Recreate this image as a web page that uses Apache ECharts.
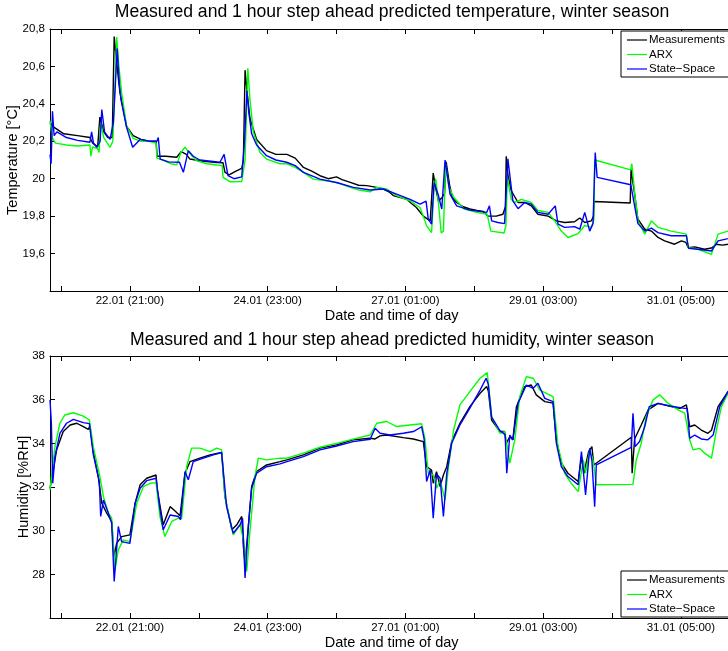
<!DOCTYPE html>
<html>
<head>
<meta charset="utf-8">
<script src="https://cdn.jsdelivr.net/npm/echarts@6/dist/echarts.min.js"></script>
<style>
  html, body { margin: 0; padding: 0; background: #fff; }
  #chart { width: 728px; height: 651px; }
</style>
</head>
<body>
<div id="chart"></div>
<script>
// x values are hours counted from the left edge of the plots (21.01 16:00)
const xTickHours = [4, 29, 54, 79, 104, 129, 154, 179, 204, 229];
const xLabelHours = [29, 79, 129, 179, 229];
const xLabels = ['22.01 (21:00)', '24.01 (23:00)', '27.01 (01:00)', '29.01 (03:00)', '31.01 (05:00)'];
const seriesNames = ['Measurements', 'ARX', 'State\u2212Space'];

// temperature [°C]
const tempMeas = [
  [0, 20.30], [1, 20.28], [5, 20.24], [10, 20.23], [14.5, 20.22], [15.5, 20.19], [17.3, 20.17], [18.1, 20.33],
  [19.5, 20.25], [21, 20.22], [22.6, 20.22], [23.3, 20.76], [24.2, 20.62], [25.4, 20.46], [27.8, 20.28],
  [30.2, 20.23], [33, 20.21], [36, 20.2], [38.5, 20.2], [38.9, 20.12], [42, 20.12], [46, 20.115], [47.6, 20.145],
  [49.5, 20.13], [50.8, 20.105], [55, 20.095], [60.5, 20.087], [62.8, 20.085], [63.5, 20.035], [65, 20.02],
  [67.5, 20.04], [69.6, 20.055], [70.2, 20.1], [70.8, 20.58], [71.6, 20.45], [72.6, 20.32], [75, 20.21],
  [78.6, 20.15], [82, 20.13], [86, 20.13], [89, 20.11], [92, 20.06], [95, 20.04], [98, 20.016], [101, 20.0],
  [104, 20.01], [106, 19.995], [109, 19.98], [112, 19.965], [115, 19.963], [118, 19.955], [121, 19.945],
  [123, 19.93], [124.6, 19.91], [127, 19.9], [129.5, 19.89], [131, 19.87], [133, 19.846], [135.5, 19.80],
  [138, 19.775], [138.7, 19.78], [139.1, 20.03], [140, 19.95], [141, 19.88], [142.3, 19.90], [143.2, 19.92],
  [143.8, 20.09], [145, 19.97], [146, 19.9], [147.6, 19.873], [150, 19.85], [152.4, 19.838], [155, 19.83],
  [157.3, 19.825], [159, 19.80], [162, 19.80], [164.4, 19.81], [165.3, 19.85], [165.6, 20.12], [166.2, 20.02],
  [167.4, 19.936], [169.9, 19.873], [172.3, 19.873], [174.7, 19.855], [177.1, 19.81], [180.8, 19.80],
  [183.8, 19.775], [186.8, 19.766], [190.4, 19.77], [192.3, 19.79], [194.1, 19.766], [196.5, 19.775],
  [197.3, 19.80], [197.5, 19.878], [210.6, 19.87], [210.9, 20.05], [212.2, 19.918], [213.4, 19.784],
  [215.9, 19.73], [218.3, 19.72], [220.7, 19.686], [223.1, 19.668], [226.7, 19.65], [229.2, 19.668],
  [230.8, 19.66], [231.6, 19.632], [234, 19.636], [237.6, 19.623], [240.1, 19.63], [241.9, 19.65],
  [244, 19.645], [246.1, 19.65], [248, 19.655]
];
const tempArx = [
  [0, 20.31], [0.8, 20.22], [2, 20.19], [6, 20.18], [10, 20.175], [14.5, 20.18], [14.8, 20.12], [15.5, 20.17],
  [17.3, 20.16], [17.8, 20.14], [18.4, 20.30], [19.5, 20.22], [21.8, 20.168], [22.8, 20.2], [23.6, 20.5],
  [24.2, 20.757], [25, 20.6], [26, 20.46], [27.8, 20.28], [30.2, 20.216], [33, 20.2], [36, 20.2], [38.5, 20.19],
  [38.8, 20.11], [41, 20.1], [44, 20.08], [46, 20.074], [47.5, 20.14], [49, 20.168], [51, 20.13], [53.2, 20.096],
  [57, 20.08], [60.5, 20.073], [62.5, 20.07], [62.8, 20.007], [65.3, 19.984], [69.6, 19.985], [70.8, 20.1],
  [71.8, 20.59], [72.6, 20.42], [73.8, 20.25], [76.2, 20.14], [78.6, 20.105], [83.5, 20.08], [86, 20.08],
  [89, 20.06], [92, 20.034], [95.6, 19.998], [101.6, 19.986], [105, 19.975], [108.9, 19.954], [112, 19.94],
  [116.2, 19.93], [118.6, 19.954], [122.2, 19.945], [125.8, 19.91], [130.7, 19.882], [134.3, 19.846],
  [135.5, 19.80], [136.7, 19.748], [138.5, 19.712], [139.4, 19.95], [140, 20.0], [141, 19.87], [142, 19.71],
  [142.8, 19.72], [143.6, 20.08], [144.8, 19.954], [146.6, 19.9], [150.3, 19.838], [155, 19.82], [158.7, 19.81],
  [160, 19.72], [164.8, 19.71], [165.5, 19.75], [166, 20.007], [167.4, 19.89], [168.7, 19.873], [171.1, 19.89],
  [174.7, 19.873], [177.1, 19.83], [180.8, 19.82], [183.2, 19.775], [185.6, 19.72], [188, 19.686],
  [191.7, 19.707], [194.1, 19.75], [196.5, 19.74], [197.4, 19.78], [197.7, 20.10], [210.8, 20.047],
  [211.2, 20.08], [212.2, 19.927], [213.4, 19.775], [215.9, 19.704], [218.3, 19.775], [220.7, 19.74],
  [225.5, 19.72], [231, 19.704], [231.6, 19.632], [235.2, 19.623], [240.1, 19.596], [242.5, 19.704],
  [246.1, 19.72], [248, 19.72]
];
const tempSs = [
  [0, 20.13], [0.4, 20.08], [0.9, 20.36], [1.5, 20.23], [2.5, 20.25], [6, 20.22], [10, 20.205], [14.5, 20.195],
  [15.1, 20.25], [15.8, 20.19], [17, 20.168], [18.2, 20.2], [18.8, 20.37], [19.8, 20.25], [21.8, 20.21],
  [23, 20.3], [24.4, 20.695], [25.2, 20.5], [25.8, 20.42], [27.8, 20.275], [30, 20.168], [32.7, 20.21],
  [36, 20.2], [38.8, 20.2], [39.3, 20.22], [40, 20.105], [43, 20.09], [47, 20.088], [48.4, 20.034],
  [50.2, 20.15], [52, 20.12], [54.4, 20.1], [61.7, 20.088], [63.2, 20.13], [64.6, 20.016], [66.8, 20.0],
  [69.6, 20.01], [70.6, 20.2], [71.5, 20.47], [72.2, 20.35], [73.2, 20.24], [75, 20.18], [78.6, 20.123],
  [82, 20.1], [85.9, 20.088], [89, 20.07], [92, 20.034], [98, 19.998], [104, 19.98], [110.1, 19.954],
  [116.2, 19.94], [121, 19.945], [125.8, 19.918], [130.7, 19.89], [134.3, 19.864], [136.5, 19.88],
  [137.3, 19.784], [138.5, 19.757], [139.4, 19.98], [141, 19.91], [142.2, 19.838], [143.4, 20.1],
  [145.2, 19.918], [147.6, 19.855], [152.4, 19.832], [158.5, 19.82], [159.5, 19.855], [160.3, 19.775],
  [162.6, 19.766], [165, 19.76], [166.2, 20.106], [168, 19.882], [169.9, 19.84], [172.3, 19.873],
  [174.7, 19.864], [177.1, 19.82], [180.8, 19.81], [183.4, 19.855], [184.4, 19.757], [186.8, 19.74],
  [190.4, 19.744], [192.3, 19.73], [194.1, 19.82], [195.9, 19.72], [197.1, 19.76], [197.9, 20.14],
  [198.6, 20.007], [210.8, 19.968], [211.3, 19.97], [212.2, 19.855], [213.4, 19.76], [215.9, 19.72],
  [218.3, 19.736], [220.7, 19.712], [225.5, 19.695], [231, 19.695], [231.8, 19.628], [235.2, 19.623],
  [240.1, 19.614], [242.5, 19.668], [246.1, 19.68], [248, 19.69]
];

// humidity [%RH]
const humMeas = [
  [0, 31.94], [1.2, 32.78], [2.4, 33.7], [4.8, 34.54], [7.3, 34.84], [9.7, 34.92], [12.1, 34.76], [13.9, 34.64],
  [14.5, 34.8], [15.7, 33.62], [17.5, 32.48], [18.8, 31.26], [20.6, 30.8], [22.4, 30.42], [23.2, 28.81],
  [24.2, 29.43], [26, 29.73], [29, 29.81], [30.9, 31.26], [32.7, 32.1], [35.1, 32.4], [38.5, 32.55],
  [38.9, 31.9], [41.1, 30.27], [43.6, 31.1], [45, 30.95], [47.2, 30.68], [49, 32.63], [50.8, 33.16],
  [54.4, 33.32], [58.1, 33.47], [62.3, 33.58], [63.5, 31.56], [66, 30.04], [67.8, 30.27], [69.6, 30.65],
  [70.2, 29.27], [70.8, 28.51], [72, 30.2], [73.2, 32.02], [75, 32.71], [78.6, 33.01], [83.5, 33.16],
  [86, 33.24], [92, 33.47], [98, 33.78], [104, 33.93], [110, 34.16], [116.2, 34.23], [118, 34.2],
  [119.8, 34.34], [122.2, 34.38], [128.2, 34.26], [131.9, 34.2], [135.5, 34.08], [136.7, 32.93],
  [138.5, 32.78], [139.1, 32.17], [140.3, 32.7], [141.6, 32.02], [142.8, 32.55], [144, 32.93], [145.8, 34.08],
  [148.8, 34.92], [152.4, 35.68], [156.1, 36.29], [158.5, 36.6], [159.1, 36.4], [160.3, 35.07], [163.3, 34.54],
  [165, 34.54], [165.6, 34.0], [166.9, 34.3], [168, 34.16], [169.3, 35.68], [172.3, 36.6], [174.7, 36.67],
  [176.5, 36.22], [179.6, 35.91], [182.6, 35.84], [183.8, 34.16], [185.6, 33.09], [188, 32.63], [191.7, 32.25],
  [192.9, 33.39], [193.8, 32.63], [195.5, 33.62], [196.7, 33.85], [197.4, 33.01], [211, 34.28], [211.3, 32.63],
  [212.2, 34.2], [214.6, 34.84], [217.1, 35.53], [220.7, 35.83], [225.5, 35.68], [228.6, 35.6], [231, 35.76],
  [232.2, 34.76], [234, 34.84], [236.4, 34.61], [238.8, 34.46], [240.1, 34.6], [242.5, 35.68], [246.1, 36.37],
  [248, 36.5]
];
const humArx = [
  [0, 31.87], [1.8, 33.85], [3.6, 34.92], [5.4, 35.3], [8.5, 35.4], [12.1, 35.25], [14.3, 35.07], [15.7, 33.85],
  [18.1, 32.48], [19.4, 31.56], [21.2, 30.8], [22.4, 30.57], [23.6, 28.21], [24.8, 29.12], [26.6, 29.58],
  [29, 29.5], [31.5, 31.26], [33.9, 32.02], [36.3, 32.17], [38.5, 32.2], [39.9, 30.65], [41.7, 29.73],
  [44.2, 30.42], [46.6, 30.57], [47.8, 30.57], [49.6, 32.93], [51.4, 33.78], [54.4, 33.78], [58.1, 33.62],
  [60.5, 33.78], [62.3, 33.7], [63.5, 31.56], [66.5, 29.81], [69, 30.27], [70.2, 29.6], [71.4, 28.13],
  [72.6, 30.0], [74.4, 32.48], [75.6, 33.32], [78.6, 33.24], [83.5, 33.32], [86, 33.32], [92, 33.55],
  [98, 33.82], [104, 34.0], [110, 34.19], [116.2, 34.38], [118.6, 34.92], [122.2, 35.0], [125.8, 34.77],
  [130.7, 34.84], [134.9, 34.9], [136.1, 34.2], [137.3, 32.63], [139.1, 32.55], [140.3, 31.94], [141.6, 32.3],
  [143.4, 31.41], [144.6, 32.9], [146.5, 34.61], [148.8, 35.76], [152.4, 36.37], [156.1, 36.98], [158.7, 37.24],
  [160.3, 35.22], [163.3, 34.46], [165, 34.54], [166, 33.85], [166.9, 33.09], [168.7, 34.16], [170.5, 36.14],
  [172.9, 37.05], [175.4, 36.98], [177.8, 36.44], [180.2, 36.29], [182.6, 36.14], [184.4, 33.85], [186.8, 32.63],
  [189.2, 32.17], [191.7, 31.79], [193.6, 33.24], [194.4, 32.63], [195.9, 33.7], [197.1, 33.24], [198.3, 32.1],
  [211.6, 32.12], [212.8, 33.24], [214.6, 34.0], [216.4, 35.22], [218.9, 35.99], [221.3, 36.22], [224.3, 35.84],
  [228, 35.53], [230.4, 35.38], [232.2, 34.16], [233.4, 33.7], [235.8, 33.77], [237.6, 33.55], [240.1, 33.32],
  [241.9, 34.61], [243.7, 35.68], [246.1, 36.29], [248, 36.45]
];
const humSs = [
  [0, 35.99], [0.5, 34.92], [1, 32.17], [1.8, 33.39], [3.6, 34.46], [6, 34.92], [8.5, 35.1], [12.1, 34.95],
  [14.3, 34.9], [15.7, 33.5], [17.9, 32.25], [18.4, 30.65], [19.4, 31.4], [21.2, 30.8], [22.4, 30.34],
  [23.3, 27.67], [24.8, 30.19], [26, 29.5], [29, 29.42], [30.9, 31.26], [32.7, 31.94], [35.1, 32.29],
  [38.5, 32.4], [39.9, 31.0], [41.1, 30.04], [43.6, 30.72], [46.6, 30.65], [47.4, 30.5], [49, 32.71],
  [50.2, 32.33], [52, 33.16], [55.7, 33.32], [59.3, 33.47], [62.3, 33.58], [64.1, 31.1], [66.5, 29.88],
  [69, 30.27], [69.9, 30.57], [70.8, 27.83], [72, 30.2], [73.2, 31.94], [75, 32.63], [78.6, 32.93],
  [83.5, 33.06], [86, 33.16], [92, 33.39], [98, 33.7], [104, 33.88], [110, 34.08], [116.2, 34.19], [118, 34.69],
  [119.8, 34.46], [123.4, 34.38], [128.2, 34.46], [131.9, 34.54], [134.9, 34.76], [135.8, 34.2], [136.7, 32.25],
  [138, 32.78], [139.1, 30.57], [140.3, 32.6], [141.6, 32.4], [142.8, 30.65], [144, 32.6], [145.8, 34.0],
  [148.8, 34.84], [152.4, 35.61], [156.1, 36.44], [158.3, 36.98], [159.1, 36.7], [160.3, 35.2], [163.3, 34.58],
  [165.2, 34.4], [165.8, 32.63], [166.9, 34.38], [168, 34.16], [169.9, 35.84], [172.9, 36.67], [175.4, 36.52],
  [177.1, 36.75], [179.6, 36.06], [182.6, 35.91], [183.8, 34.0], [185.6, 32.93], [188, 32.48], [191.7, 32.1],
  [192.9, 33.62], [194.4, 31.64], [195.9, 33.77], [196.7, 33.2], [197.7, 31.1], [198.3, 33.01], [211, 33.82],
  [211.6, 35.38], [212.4, 33.85], [214, 34.08], [215.9, 34.77], [217.5, 35.68], [220.7, 35.83], [225.5, 35.7],
  [230.4, 35.6], [231.3, 35.6], [232.2, 34.23], [234, 34.38], [236.4, 34.2], [238.8, 34.16], [240.7, 34.38],
  [243.1, 35.68], [246.1, 36.37], [248, 36.5]
];

const FONT = 'Liberation Sans, Arial, Helvetica, sans-serif';
const colors = ['#000000', '#00ff00', '#0000ff'];
const xMax = 248;

const chart = echarts.init(document.getElementById('chart'), null, {renderer: 'canvas'});

function xAxisFor (gridIndex, top){
    return {
        type: 'value', gridIndex, min: 0, max: xMax,
        position: top ? 'top' : 'bottom',
        name: top ? '' : 'Date and time of day',
        nameLocation: 'middle', nameGap: 17, nameMoveOverlap: false,
        nameTextStyle: {fontFamily: FONT, fontSize: 14.5, color: '#000'},
        axisLine: {show: true, onZero: false, lineStyle: {color: '#000', width: 1}},
        axisTick: {show: true, inside: true, length: 5, customValues: xTickHours, lineStyle: {color: '#000'}},
        axisLabel: {
            show: !top, margin: 4, customValues: xLabelHours,
            fontFamily: FONT, fontSize: 11.5, color: '#000',
            formatter: v => {
                const i = xLabelHours.indexOf(Math.round(v));
                return i >= 0 ? xLabels[i] : '';
            }
        },
        splitLine: {show: false}
    };
}

function yAxisFor (gridIndex, right, min, max, interval, name, nameGap){
    return {
        type: 'value', gridIndex, min, max, interval,
        position: right ? 'right' : 'left',
        name: right ? '' : name,
        nameLocation: 'middle', nameGap, nameMoveOverlap: false,
        nameTextStyle: {fontFamily: FONT, fontSize: 14.5, color: '#000'},
        axisLine: {show: true, onZero: false, lineStyle: {color: '#000', width: 1}},
        axisTick: {show: true, inside: true, length: 5, lineStyle: {color: '#000'}},
        axisLabel: {
            show: !right, margin: 5, showMinLabel: false,
            fontFamily: FONT, fontSize: 11.5, color: '#000',
            formatter: v => String(Number(v.toFixed(1))).replace('.', ',')
        },
        splitLine: {show: false}
    };
}

function lineSeries (name, data, color, axisIndex){
    return {
        name, type: 'line', data,
        xAxisIndex: axisIndex, yAxisIndex: axisIndex,
        showSymbol: false, symbol: 'none',
        lineStyle: {color, width: 1.4},
        itemStyle: {color},
        emphasis: {disabled: true}
    };
}

function legendFor (top){
    return {
        orient: 'vertical', left: 621, top,
        data: seriesNames,
        icon: 'rect',
        itemWidth: 20, itemHeight: 1.2, itemGap: 2.5,
        padding: [3, 6, 2, 6],
        backgroundColor: '#fff', borderColor: '#000', borderWidth: 1, borderRadius: 0,
        textStyle: {fontFamily: FONT, fontSize: 11.5, color: '#000', padding: [0, 0, 0, -3]},
        selectedMode: false
    };
}

chart.setOption({
    animation: false,
    backgroundColor: '#fff',
    graphic: [
        {type: 'text', x: 392, y: 12, style: {
            text: 'Measured and 1 hour step ahead predicted temperature, winter season',
            fontFamily: FONT, fontSize: 17.6, fill: '#000', align: 'center', verticalAlign: 'middle'}},
        {type: 'text', x: 392, y: 340, style: {
            text: 'Measured and 1 hour step ahead predicted humidity, winter season',
            fontFamily: FONT, fontSize: 17.6, fill: '#000', align: 'center', verticalAlign: 'middle'}}
    ],
    legend: [legendFor(31), legendFor(571)],
    grid: [
        {left: 50, top: 29, width: xMax * 2.755, height: 262, outerBoundsMode: 'none', containLabel: false},
        {left: 50, top: 356, width: xMax * 2.755, height: 262, outerBoundsMode: 'none', containLabel: false}
    ],
    xAxis: [xAxisFor(0, false), xAxisFor(1, false), xAxisFor(0, true), xAxisFor(1, true)],
    yAxis: [
        yAxisFor(0, false, 19.4, 20.8, 0.2, 'Temperature [\u00b0C]', 30),
        yAxisFor(1, false, 26, 38, 2, 'Humidity [%RH]', 19),
        yAxisFor(0, true, 19.4, 20.8, 0.2, '', 0),
        yAxisFor(1, true, 26, 38, 2, '', 0)
    ],
    series: [
        lineSeries(seriesNames[0], tempMeas, colors[0], 0),
        lineSeries(seriesNames[1], tempArx, colors[1], 0),
        lineSeries(seriesNames[2], tempSs, colors[2], 0),
        lineSeries(seriesNames[0], humMeas, colors[0], 1),
        lineSeries(seriesNames[1], humArx, colors[1], 1),
        lineSeries(seriesNames[2], humSs, colors[2], 1)
    ]
});
</script>
</body>
</html>
